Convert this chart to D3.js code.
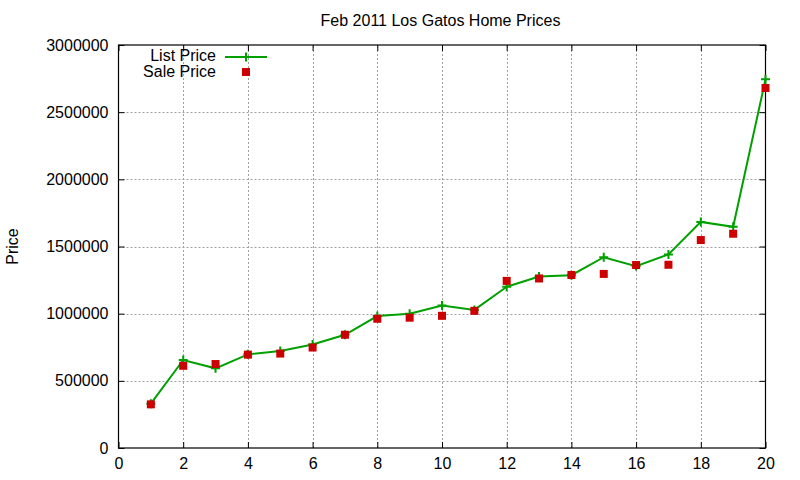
<!DOCTYPE html>
<html>
<head>
<meta charset="utf-8">
<script src="https://cdn.jsdelivr.net/npm/d3@7"></script>
<style>
  body { margin: 0; background: #fff; }
  text { font-family: "Liberation Sans", Arial, sans-serif; fill: #000; }
</style>
</head>
<body>
<div id="chart"></div>
<script>
// -------------------- Data --------------------
const homeIndex = [1, 2, 3, 4, 5, 6, 7, 8, 9, 10, 11, 12, 13, 14, 15, 16, 17, 18, 19, 20];
const listPrice = [330000, 655000, 593000, 697000, 722000, 771000, 843000, 982000, 999000, 1060000,
                   1028000, 1200000, 1276000, 1286000, 1420000, 1354000, 1441000, 1683000, 1647000, 2745000];
const salePrice = [325000, 612000, 625000, 695000, 703000, 748000, 843000, 962000, 970000, 984000,
                   1021000, 1244000, 1262000, 1288000, 1296000, 1362000, 1364000, 1548000, 1595000, 2680000];
const xTicks = [0, 2, 4, 6, 8, 10, 12, 14, 16, 18, 20];
const yTicks = [0, 500000, 1000000, 1500000, 2000000, 2500000, 3000000];

// -------------------- Layout --------------------
const WIDTH = 800;
const HEIGHT = 480;
const margin = { top: 45, right: 34.5, bottom: 32, left: 118.5 };

const svg = d3.select("#chart")
    .append("svg")
    .attr("width", WIDTH)
    .attr("height", HEIGHT);

const x = d3.scaleLinear().domain([0, 20]).range([margin.left, WIDTH - margin.right]);
const y = d3.scaleLinear().domain([0, 3000000]).range([HEIGHT - margin.bottom, margin.top]);

// grid lines (dotted gray)
const grid = svg.append("g")
    .attr("stroke", "#a0a0a0")
    .attr("stroke-width", 1)
    .attr("stroke-dasharray", "2,2");

grid.selectAll("line.gx")
    .data(xTicks.filter(d => d > 0 && d < 20))
    .join("line")
    .attr("class", "gx")
    .attr("x1", d => Math.round(x(d)) + 0.5)
    .attr("x2", d => Math.round(x(d)) + 0.5)
    .attr("y1", y(0))
    .attr("y2", y(3000000));

grid.selectAll("line.gy")
    .data(yTicks.filter(d => d > 0 && d < 3000000))
    .join("line")
    .attr("class", "gy")
    .attr("x1", x(0))
    .attr("x2", x(20))
    .attr("y1", d => Math.round(y(d)) + 0.5)
    .attr("y2", d => Math.round(y(d)) + 0.5);

// axes, ticks pointing inward, mirrored on top and right
const fontSize = 16;
const bottomAxis = svg.append("g")
    .attr("transform", `translate(0,${y(0)})`)
    .call(d3.axisBottom(x).tickValues(xTicks).tickSizeInner(-6).tickSizeOuter(0).tickPadding(10));
const topAxis = svg.append("g")
    .attr("transform", `translate(0,${y(3000000)})`)
    .call(d3.axisTop(x).tickValues(xTicks).tickSizeInner(-6).tickSizeOuter(0).tickFormat(""));
const leftAxis = svg.append("g")
    .attr("transform", `translate(${x(0)},0)`)
    .call(d3.axisLeft(y).tickValues(yTicks).tickSizeInner(-6).tickSizeOuter(0).tickPadding(10).tickFormat(d3.format("d")));
const rightAxis = svg.append("g")
    .attr("transform", `translate(${x(20)},0)`)
    .call(d3.axisRight(y).tickValues(yTicks).tickSizeInner(-6).tickSizeOuter(0).tickFormat(""));

[bottomAxis, topAxis, leftAxis, rightAxis].forEach(g => {
    g.select(".domain").remove();
    g.selectAll("line").attr("stroke", "#000");
    g.selectAll("text")
        .attr("font-size", fontSize)
        .attr("font-family", "'Liberation Sans', Arial, sans-serif");
});

// plot frame
svg.append("rect")
    .attr("x", x(0))
    .attr("y", y(3000000))
    .attr("width", x(20) - x(0))
    .attr("height", y(0) - y(3000000))
    .attr("fill", "none")
    .attr("stroke", "#000")
    .attr("stroke-width", 1.2);

// title and axis label
svg.append("text")
    .attr("x", (x(0) + x(20)) / 2 - 1.5)
    .attr("y", 20)
    .attr("dy", "0.35em")
    .attr("text-anchor", "middle")
    .attr("font-size", 16)
    .text("Feb 2011 Los Gatos Home Prices");

svg.append("text")
    .attr("transform", `translate(12,${(y(0) + y(3000000)) / 2}) rotate(-90)`)
    .attr("dy", "0.35em")
    .attr("text-anchor", "middle")
    .attr("font-size", fontSize)
    .text("Price");

// ***** LIST PRICE line *****
const green = "#00a000";
const red = "#cc0000";
const listData = homeIndex.map((d, i) => ({ x: d, y: listPrice[i] }));
const saleData = homeIndex.map((d, i) => ({ x: d, y: salePrice[i] }));

svg.append("path")
    .datum(listData)
    .attr("fill", "none")
    .attr("stroke", green)
    .attr("stroke-width", 2)
    .attr("d", d3.line().x(d => x(d.x)).y(d => y(d.y)));

const plusPath = s => `M${-s},0H${s}M0,${-s}V${s}`;

svg.append("g")
    .attr("stroke", green)
    .attr("stroke-width", 2)
    .selectAll("path")
    .data(listData)
    .join("path")
    .attr("transform", d => `translate(${x(d.x)},${y(d.y)})`)
    .attr("d", plusPath(4.5));

// ***** SALE PRICE points *****
svg.append("g")
    .attr("fill", red)
    .selectAll("rect")
    .data(saleData)
    .join("rect")
    .attr("x", d => x(d.x) - 4)
    .attr("y", d => y(d.y) - 4)
    .attr("width", 8)
    .attr("height", 8);

// ***** LEGEND *****
const legend = svg.append("g");
legend.append("text")
    .attr("x", 216)
    .attr("y", 55)
    .attr("dy", "0.35em")
    .attr("text-anchor", "end")
    .attr("font-size", fontSize)
    .text("List Price");
legend.append("line")
    .attr("x1", 225).attr("x2", 267)
    .attr("y1", 57).attr("y2", 57)
    .attr("stroke", green)
    .attr("stroke-width", 2);
legend.append("path")
    .attr("transform", "translate(246,57)")
    .attr("d", plusPath(4.5))
    .attr("stroke", green)
    .attr("stroke-width", 2);
legend.append("text")
    .attr("x", 216)
    .attr("y", 71)
    .attr("dy", "0.35em")
    .attr("text-anchor", "end")
    .attr("font-size", fontSize)
    .text("Sale Price");
legend.append("rect")
    .attr("x", 242).attr("y", 68)
    .attr("width", 8).attr("height", 8)
    .attr("fill", red);
</script>
</body>
</html>
